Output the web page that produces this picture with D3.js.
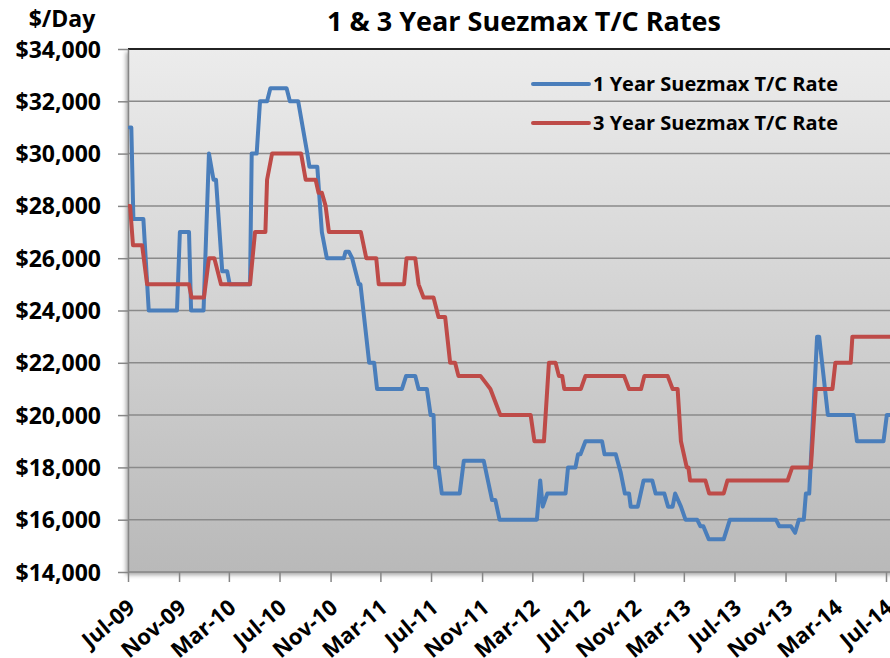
<!DOCTYPE html>
<html>
<head>
<meta charset="utf-8">
<script src="https://cdn.jsdelivr.net/npm/d3@7"></script>
<style>
	body { margin: 0; background: #fff; }
	svg text { font-family: 'Open Sans', 'DejaVu Sans', sans-serif; font-weight: 700; fill: #000; }
</style>
</head>
<body>
<svg id="chart" width="890" height="658"></svg>
<script>
'use strict'

// 1 year T/C rate ($/day)
const oneYearDates = [
	'2009-07-05', '2009-07-09', '2009-07-14', '2009-08-07', '2009-08-20', '2009-10-27', '2009-11-03', '2009-11-25',
	'2009-11-30', '2009-12-30', '2010-01-12', '2010-01-23', '2010-01-29', '2010-02-13', '2010-02-25', '2010-03-03',
	'2010-04-21', '2010-04-25', '2010-05-07', '2010-05-15', '2010-06-01', '2010-06-09', '2010-07-18', '2010-07-26',
	'2010-08-15', '2010-09-06', '2010-09-11', '2010-09-30', '2010-10-11', '2010-10-23', '2010-12-03', '2010-12-07',
	'2010-12-15', '2010-12-23', '2011-01-08', '2011-01-12', '2011-02-02', '2011-02-14', '2011-02-21', '2011-04-22',
	'2011-05-02', '2011-05-24', '2011-06-01', '2011-06-21', '2011-06-30', '2011-07-07', '2011-07-11', '2011-07-19',
	'2011-07-27', '2011-09-08', '2011-09-18', '2011-11-05', '2011-11-25', '2011-12-03', '2011-12-13', '2012-03-12',
	'2012-03-20', '2012-03-26', '2012-04-06', '2012-05-20', '2012-05-26', '2012-06-13', '2012-06-19', '2012-06-25',
	'2012-07-07', '2012-08-16', '2012-08-22', '2012-09-18', '2012-09-30', '2012-10-10', '2012-10-20', '2012-10-24',
	'2012-11-10', '2012-11-24', '2012-12-15', '2012-12-23', '2013-01-13', '2013-01-22', '2013-02-02', '2013-02-08',
	'2013-02-22', '2013-03-05', '2013-04-02', '2013-04-10', '2013-04-17', '2013-04-30', '2013-06-05', '2013-06-20',
	'2013-10-09', '2013-10-17', '2013-11-14', '2013-11-24', '2013-12-03', '2013-12-15', '2013-12-20', '2013-12-28',
	'2014-01-16', '2014-01-21', '2014-02-11', '2014-04-14', '2014-04-22', '2014-06-25', '2014-07-03', '2014-07-15'
]
const oneYearRates = [
	31000, 31000, 27500, 27500, 24000, 24000, 27000, 27000,
	24000, 24000, 30000, 29000, 29000, 25500, 25500, 25000,
	25000, 30000, 30000, 32000, 32000, 32500, 32500, 32000,
	32000, 30000, 29500, 29500, 27000, 26000, 26000, 26250,
	26250, 26000, 25000, 25000, 22000, 22000, 21000, 21000,
	21500, 21500, 21000, 21000, 20000, 20000, 18000, 18000,
	17000, 17000, 18250, 18250, 16750, 16750, 16000, 16000,
	17500, 16500, 17000, 17000, 18000, 18000, 18500, 18500,
	19000, 19000, 18500, 18500, 17800, 17000, 17000, 16500,
	16500, 17500, 17500, 17000, 17000, 16500, 16500, 17000,
	16500, 16000, 16000, 15750, 15750, 15250, 15250, 16000,
	16000, 15750, 15750, 15500, 16000, 16000, 17000, 17000,
	23000, 23000, 20000, 20000, 19000, 19000, 20000, 20000
]

// 3 year T/C rate ($/day)
const threeYearDates = [
	'2009-07-02', '2009-07-06', '2009-07-13', '2009-08-04', '2009-08-16', '2009-11-25', '2009-12-01', '2009-12-31',
	'2010-01-12', '2010-01-25', '2010-02-10', '2010-04-21', '2010-05-03', '2010-05-28', '2010-06-01', '2010-06-13',
	'2010-08-22', '2010-09-02', '2010-09-26', '2010-10-03', '2010-10-11', '2010-10-20', '2010-10-28', '2011-01-13',
	'2011-01-26', '2011-02-19', '2011-02-25', '2011-04-27', '2011-05-03', '2011-05-24', '2011-06-01', '2011-06-13',
	'2011-07-07', '2011-07-19', '2011-08-04', '2011-08-16', '2011-08-28', '2011-09-05', '2011-10-28', '2011-11-09',
	'2011-11-21', '2011-12-03', '2011-12-15', '2012-02-26', '2012-03-06', '2012-03-29', '2012-04-10', '2012-04-26',
	'2012-05-04', '2012-05-12', '2012-05-17', '2012-06-26', '2012-07-07', '2012-10-08', '2012-10-20', '2012-11-18',
	'2012-11-26', '2013-01-21', '2013-02-02', '2013-02-14', '2013-02-22', '2013-03-08', '2013-03-12', '2013-03-16',
	'2013-04-22', '2013-05-01', '2013-06-05', '2013-06-14', '2013-11-06', '2013-11-17', '2014-01-01', '2014-01-13',
	'2014-02-22', '2014-03-01', '2014-04-07', '2014-04-11', '2014-07-15'
]
const threeYearRates = [
	28000, 28000, 26500, 26500, 25000, 25000, 24500, 24500,
	26000, 26000, 25000, 25000, 27000, 27000, 29000, 30000,
	30000, 29000, 29000, 28500, 28500, 28000, 27000, 27000,
	26000, 26000, 25000, 25000, 26000, 26000, 25000, 24500,
	24500, 23750, 23750, 22000, 22000, 21500, 21500, 21250,
	21000, 20500, 20000, 20000, 19000, 19000, 22000, 22000,
	21500, 21500, 21000, 21000, 21500, 21500, 21000, 21000,
	21500, 21500, 21000, 21000, 19000, 18000, 18000, 17500,
	17500, 17000, 17000, 17500, 17500, 18000, 18000, 21000,
	21000, 22000, 22000, 23000, 23000
]

const seriesNames = ['1 Year Suezmax T/C Rate', '3 Year Suezmax T/C Rate']
const seriesColors = ['#4a7ebb', '#be4b48']
const yTicks = [14000, 16000, 18000, 20000, 22000, 24000, 26000, 28000, 30000, 32000, 34000]
const xTicks = ['2009-07-01', '2009-11-01', '2010-03-01', '2010-07-01', '2010-11-01', '2011-03-01', '2011-07-01',
	'2011-11-01', '2012-03-01', '2012-07-01', '2012-11-01', '2013-03-01', '2013-07-01', '2013-11-01', '2014-03-01', '2014-07-01']
const chartTitle = '1 & 3 Year Suezmax T/C Rates'
const yUnit = '$/Day'

const parseDate = d3.timeParse('%Y-%m-%d')

const series = [
	oneYearDates.map((d, i) => ({date: parseDate(d), value: oneYearRates[i]})),
	threeYearDates.map((d, i) => ({date: parseDate(d), value: threeYearRates[i]}))
]

const svg = d3.select('#chart')

const x = d3.scaleTime()
	.domain([parseDate('2009-07-01'), parseDate('2014-07-01')])
	.range([128, 886])

const y = d3.scaleLinear()
	.domain([14000, 34000])
	.range([572, 49])

const plot = {
	left: x.range()[0],
	right: x(parseDate('2014-08-01')),
	top: y(34000),
	bottom: y(14000)
}

const defs = svg.append('defs')

const grad = defs.append('linearGradient')
	.attr('id', 'plotBg')
	.attr('x1', 0).attr('y1', 0)
	.attr('x2', 0).attr('y2', 1)
grad.append('stop').attr('offset', '0%').attr('stop-color', '#ececec')
grad.append('stop').attr('offset', '100%').attr('stop-color', '#b9b9b9')

const shadow = defs.append('filter')
	.attr('id', 'plotShadow')
	.attr('x', '-5%').attr('y', '-5%')
	.attr('width', '110%').attr('height', '110%')
shadow.append('feDropShadow')
	.attr('dx', -2)
	.attr('dy', 3)
	.attr('stdDeviation', 2)
	.attr('flood-color', '#000')
	.attr('flood-opacity', 0.35)

defs.append('clipPath')
	.attr('id', 'plotClip')
	.append('rect')
	.attr('x', plot.left)
	.attr('y', plot.top - 5)
	.attr('width', plot.right - plot.left)
	.attr('height', plot.bottom - plot.top + 5)

svg.append('rect')
	.attr('x', plot.left)
	.attr('y', plot.top)
	.attr('width', plot.right - plot.left)
	.attr('height', plot.bottom - plot.top)
	.attr('fill', 'url(#plotBg)')
	.attr('filter', 'url(#plotShadow)')

// gridlines
svg.append('g')
	.selectAll('line')
	.data(yTicks.filter((t) => t > 14000))
	.enter()
	.append('line')
	.attr('x1', plot.left)
	.attr('x2', plot.right)
	.attr('y1', (d) => y(d))
	.attr('y2', (d) => y(d))
	.attr('stroke', (d) => d === 34000 ? '#222' : '#8a8a8a')
	.attr('stroke-width', (d) => d === 34000 ? 2 : 1.5)

// y axis
const yAxis = svg.append('g')
	.attr('transform', `translate(${plot.left},0)`)
	.call(d3.axisLeft(y)
		.tickValues(yTicks)
		.tickSize(10)
		.tickSizeOuter(0)
		.tickPadding(17)
		.tickFormat(d3.format('$,')))
yAxis.select('.domain').attr('stroke', '#868686').attr('stroke-width', 1.5)
yAxis.selectAll('.tick line').attr('stroke', '#868686').attr('stroke-width', 1.5)
yAxis.selectAll('text')
	.style('font-size', '23px')
	.attr('dy', '0.35em')

// x axis
const xAxis = svg.append('g')
	.attr('transform', `translate(0,${plot.bottom})`)
	.call(d3.axisBottom(x)
		.tickValues(xTicks.map(parseDate))
		.tickSize(10)
		.tickSizeOuter(0)
		.tickFormat(d3.timeFormat('%b-%y')))
xAxis.select('.domain')
	.attr('d', `M${plot.left},0H${plot.right}`)
	.attr('stroke', '#868686')
	.attr('stroke-width', 1.5)
xAxis.selectAll('.tick line').attr('stroke', '#868686').attr('stroke-width', 1.5)
xAxis.selectAll('text')
	.style('font-size', '22px')
	.attr('text-anchor', 'end')
	.attr('x', 0)
	.attr('y', 0)
	.attr('dy', null)
	.attr('transform', 'translate(8,38) rotate(-40)')

// series lines
const line = d3.line()
	.x((d) => x(d.date))
	.y((d) => y(d.value))

svg.append('g')
	.attr('clip-path', 'url(#plotClip)')
	.selectAll('path')
	.data(series)
	.enter()
	.append('path')
	.attr('d', line)
	.attr('fill', 'none')
	.attr('stroke', (d, i) => seriesColors[i])
	.attr('stroke-width', 4)
	.attr('stroke-linejoin', 'round')
	.attr('stroke-linecap', 'round')

// title and unit label
svg.append('text')
	.attr('x', 524)
	.attr('y', 31)
	.attr('text-anchor', 'middle')
	.style('font-size', '27px')
	.text(chartTitle)

svg.append('text')
	.attr('x', 62)
	.attr('y', 27)
	.attr('text-anchor', 'middle')
	.style('font-size', '23px')
	.text(yUnit)

// legend
const legend = svg.append('g')
	.selectAll('g')
	.data(seriesNames)
	.enter()
	.append('g')
	.attr('transform', (d, i) => `translate(533,${84 + i * 39})`)

legend.append('line')
	.attr('x1', 0)
	.attr('x2', 56)
	.attr('stroke', (d, i) => seriesColors[i])
	.attr('stroke-width', 4)
	.attr('stroke-linecap', 'round')

legend.append('text')
	.attr('x', 60)
	.attr('dy', '0.35em')
	.style('font-size', '20px')
	.text((d) => d)
</script>
</body>
</html>
